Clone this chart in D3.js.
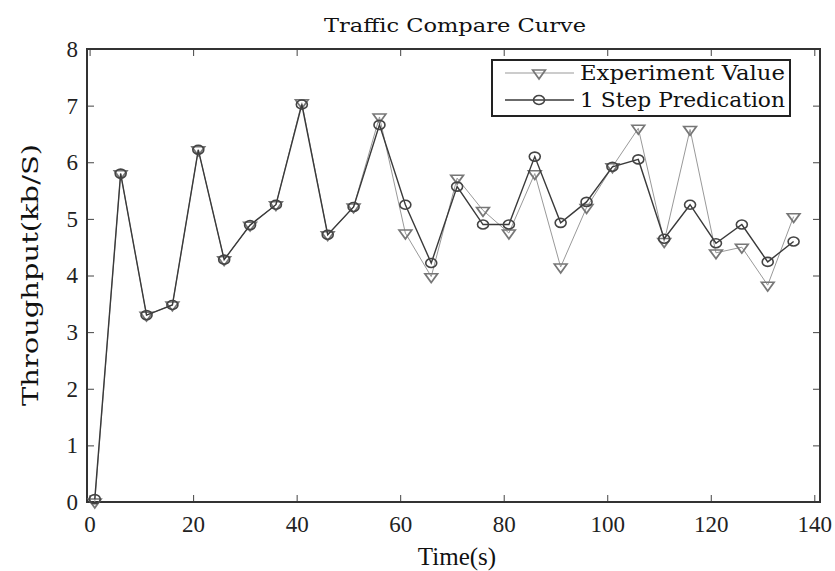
<!DOCTYPE html>
<html>
<head>
<meta charset="utf-8">
<script src="https://cdn.jsdelivr.net/npm/d3@7"></script>
<style>
  body { margin: 0; background: #fff; }
  svg { font-family: "DejaVu Serif", "Liberation Serif", serif; }
  .tick line { stroke: #444; stroke-width: 1; }
</style>
</head>
<body>
<svg></svg>
<script>
document.addEventListener('DOMContentLoaded', function() {

  var width = 835;
  var height = 571;
  var svg = d3.select('svg')
                .attr('width', width)
                .attr('height', height);

  // sample times (s)
  var time = [1, 6, 11, 16, 21, 26, 31, 36, 41, 46, 51, 56, 61, 66,
              71, 76, 81, 86, 91, 96, 101, 106, 111, 116, 121, 126, 131, 136];
  var experiment = [0, 5.8, 3.3, 3.48, 6.22, 4.28, 4.89, 5.25, 7.05, 4.72, 5.21, 6.8, 4.75, 3.98,
                    5.72, 5.15, 4.75, 5.8, 4.15, 5.2, 5.92, 6.6, 4.6, 6.58, 4.4, 4.5, 3.83, 5.04];
  var prediction = [0.05, 5.8, 3.3, 3.48, 6.22, 4.28, 4.89, 5.25, 7.02, 4.72, 5.21, 6.66, 5.25, 4.22,
                    5.57, 4.9, 4.9, 6.1, 4.93, 5.3, 5.92, 6.05, 4.65, 5.25, 4.57, 4.9, 4.24, 4.6];
  var xTicks = [0, 20, 40, 60, 80, 100, 120, 140];
  var yTicks = [0, 1, 2, 3, 4, 5, 6, 7, 8];
  var seriesNames = ['Experiment Value', '1 Step Predication'];

  var left = 87, right = 820, top = 49, bottom = 502;

  var xScale = d3.scaleLinear()
                 .domain([-0.5, 141.1])
                 .range([left, right]);
  var yScale = d3.scaleLinear()
                 .domain([0, 8])
                 .range([bottom, top]);

  function cleanAxis(g) {
    g.select('.domain').remove();
    g.attr('font-family', 'Liberation Serif, Times New Roman, serif').attr('font-size', 23);
    g.selectAll('.tick text').attr('fill', '#222');
  }

  // axes, ticks pointing inward like matlab
  svg.append('g')
     .attr('transform', `translate(0, ${bottom})`)
     .call(d3.axisBottom(xScale).tickValues(xTicks).tickSizeInner(-7).tickSizeOuter(0).tickPadding(14))
     .call(cleanAxis);
  svg.append('g')
     .attr('transform', `translate(0, ${top})`)
     .call(d3.axisTop(xScale).tickValues(xTicks).tickSizeInner(-7).tickSizeOuter(0).tickFormat(''))
     .call(cleanAxis);
  svg.append('g')
     .attr('transform', `translate(${left}, 0)`)
     .call(d3.axisLeft(yScale).tickValues(yTicks).tickSizeInner(-7).tickSizeOuter(0).tickPadding(9))
     .call(cleanAxis);
  svg.append('g')
     .attr('transform', `translate(${right}, 0)`)
     .call(d3.axisRight(yScale).tickValues(yTicks).tickSizeInner(-7).tickSizeOuter(0).tickFormat(''))
     .call(cleanAxis);

  svg.append('rect')
     .attr('x', left).attr('y', top)
     .attr('width', right - left).attr('height', bottom - top)
     .attr('fill', 'none').attr('stroke', '#333').attr('stroke-width', 2);

  var tri = d3.symbol().type(d3.symbolTriangle).size(45);
  var line = d3.line();

  function drawSeries(values, color, lw, marker) {
    var pts = values.map((v, i) => [xScale(time[i]), yScale(v)]);
    svg.append('path')
       .attr('d', line(pts))
       .attr('fill', 'none')
       .attr('stroke', color)
       .attr('stroke-width', lw);
    var g = svg.append('g');
    pts.forEach(p => drawMarker(g, p[0], p[1], marker));
  }

  function drawMarker(g, x, y, marker) {
    if (marker === 'tri') {
      g.append('path')
       .attr('d', tri())
       .attr('transform', `translate(${x}, ${y}) rotate(180) scale(1.25, 1)`)
       .attr('fill', 'none').attr('stroke', '#777').attr('stroke-width', 1.5);
    } else {
      g.append('ellipse')
       .attr('cx', x).attr('cy', y).attr('rx', 5.5).attr('ry', 4.5)
       .attr('fill', 'none').attr('stroke', '#444').attr('stroke-width', 1.6);
    }
  }

  drawSeries(experiment, '#999', 1, 'tri');
  drawSeries(prediction, '#3a3a3a', 1.4, 'circ');

  // legend
  var lg = svg.append('g');
  lg.append('rect')
    .attr('x', 492).attr('y', 60).attr('width', 298).attr('height', 56)
    .attr('fill', '#fff').attr('stroke', '#222').attr('stroke-width', 2);
  [73, 100].forEach(function(ly, i) {
    lg.append('line')
      .attr('x1', 505).attr('x2', 574).attr('y1', ly).attr('y2', ly)
      .attr('stroke', i === 0 ? '#999' : '#3a3a3a')
      .attr('stroke-width', i === 0 ? 1 : 1.4);
    drawMarker(lg, 539, ly, i === 0 ? 'tri' : 'circ');
    lg.append('text')
      .attr('x', 580).attr('y', ly + 7)
      .attr('font-size', 20)
      .attr('textLength', 205)
      .attr('lengthAdjust', 'spacingAndGlyphs')
      .attr('fill', '#111')
      .text(seriesNames[i]);
  });

  svg.append('text')
     .attr('x', 455).attr('y', 32)
     .attr('text-anchor', 'middle')
     .attr('font-size', 19)
     .attr('textLength', 262)
     .attr('lengthAdjust', 'spacingAndGlyphs')
     .attr('fill', '#111')
     .text('Traffic Compare Curve');

  svg.append('text')
     .attr('x', 457).attr('y', 565)
     .attr('text-anchor', 'middle')
     .attr('font-size', 25)
     .attr('font-family', 'Liberation Serif, serif')
     .attr('fill', '#111')
     .text('Time(s)');

  svg.append('text')
     .attr('transform', 'translate(38, 275) rotate(-90)')
     .attr('text-anchor', 'middle')
     .attr('font-size', 22)
     .attr('textLength', 262)
     .attr('lengthAdjust', 'spacingAndGlyphs')
     .attr('fill', '#111')
     .text('Throughput(kb/S)');

});
</script>
</body>
</html>
